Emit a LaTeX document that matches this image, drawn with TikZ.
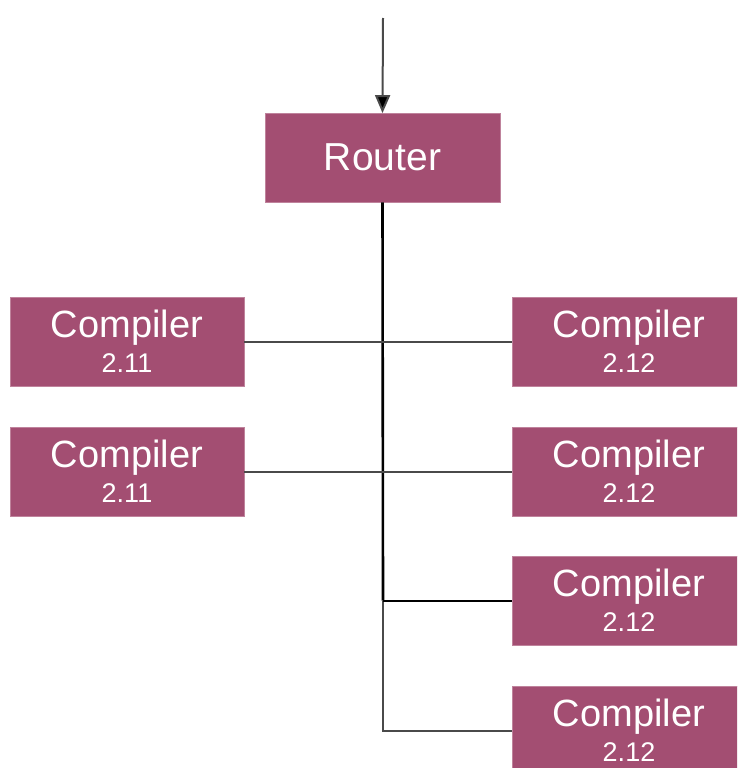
\documentclass[tikz,border=0pt]{standalone}
\usepackage{fontspec}
\setmainfont{Liberation Sans}
\usetikzlibrary{arrows.meta}
\definecolor{boxfill}{HTML}{A34E72}
\definecolor{linkgray}{HTML}{4A4A4A}
\tikzset{
  unit/.style={draw=boxfill!70!white, line width=0.8pt, fill=boxfill, text=white,
    minimum width=234pt, minimum height=89pt, inner sep=0pt, align=center},
  link/.style={draw=linkgray, line width=2pt},
  trunk/.style={draw=black, line width=2.6pt},
}
\newcommand{\compiler}[1]{{\fontsize{38}{38}\selectfont Compiler}\\[7pt]{\fontsize{27}{27}\selectfont #1}}
\begin{document}
\begin{tikzpicture}[x=1pt,y=-1pt]
  \useasboundingbox (0,0) rectangle (737,768);
  \clip (0,0) rectangle (737,768);

  % router and compiler units
  \node[unit, minimum width=235pt] (router) at (382.5,157.5) {\fontsize{39}{40}\selectfont Router};
  \node[unit] (l1) at (127,341.5) {\compiler{2.11}};
  \node[unit] (l2) at (127,471.5) {\compiler{2.11}};
  \node[unit] (r1) at (629,341.5) {\compiler{2.12}};
  \node[unit] (r2) at (629,471.5) {\compiler{2.12}};
  \node[unit] (r3) at (629,600.5) {\compiler{2.12}};
  \node[unit] (r4) at (629,730.5) {\compiler{2.12}};

  % incoming request
  \coordinate (in) at (383,18);
  \draw[link, -{Triangle[length=18pt,width=15pt,fill=black]}, shorten >=-0.5pt] (in) -- (router.north);

  % distribution trunk
  \coordinate (tr3) at (383,600.5);
  \coordinate (tr4) at (383,730.5);
  \draw[trunk] (router.south) -- (tr3);
  \draw[link] (tr3) -- (tr4) -- (r4.west);
  \draw[trunk, line width=2pt] (tr3) -- (r3.west);

  % paired units across the trunk
  \draw[link] (l1.east) -- (r1.west);
  \draw[link] (l2.east) -- (r2.west);
\end{tikzpicture}
\end{document}
